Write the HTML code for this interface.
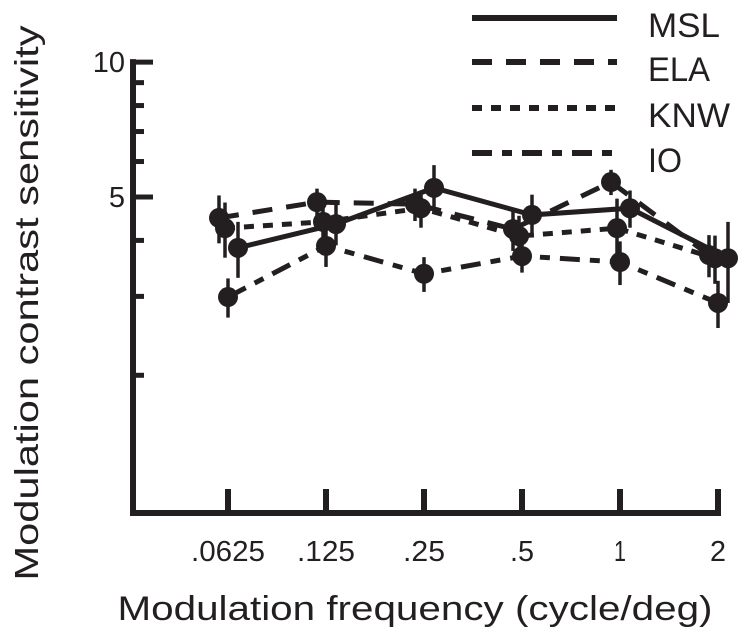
<!DOCTYPE html>
<html><head><meta charset="utf-8"><style>
html,body{margin:0;padding:0;background:#fff;}
svg{display:block;font-family:"Liberation Sans",sans-serif;}
</style></head><body>
<svg id="chart" width="745" height="640" viewBox="0 0 745 640">
<g id="axes"></g>
<g id="series"></g>
<g id="legend"></g>
<text x="38" y="303" transform="rotate(-90 38 303)" text-anchor="middle" font-size="33" textLength="555" lengthAdjust="spacingAndGlyphs" fill="#231f20">Modulation contrast sensitivity</text>
<text x="415" y="620" text-anchor="middle" font-size="34" textLength="595" lengthAdjust="spacingAndGlyphs" fill="#231f20">Modulation frequency (cycle/deg)</text>
</svg>
<script>
const categories = [".0625", ".125", ".25", ".5", "1", "2"];
const seriesNames = ["MSL", "ELA", "KNW", "IO"];
const mslValues = [3.85, 4.35, 5.24, 4.56, 4.72, 3.65];
const elaValues = [4.49, 4.87, 4.82, 4.24, 5.40, 3.71];
const knwValues = [4.26, 4.40, 4.72, 4.09, 4.26, 3.65];
const ioValues  = [2.99, 3.89, 3.37, 3.69, 3.58, 2.90];
const mslErr = [0.55, 0.45, 0.65, 0.50, 0.45, 0.75];
const elaErr = [0.55, 0.35, 0.40, 0.45, 0.35, 0.40];
const knwErr = [0.60, 0.55, 0.45, 0.45, 0.70, 0.45];
const ioErr  = [0.30, 0.40, 0.30, 0.30, 0.40, 0.35];
const yTickValues = [2, 3, 4, 5, 6, 7, 8, 9, 10];
const yTickLabels = {5: "5", 10: "10"};
const tickTextLen = {".0625": 74, ".125": 58, ".25": 42, ".5": 24, "1": 12, "2": 16};

const NS = "http://www.w3.org/2000/svg";
const INK = "#231f20";
const x0 = 228, dx = 98, xLeft = 133, yBottom = 513;
function xScale(i){ return x0 + i*dx; }
function yScale(v){ return 197 - 448*Math.log10(v/5); }
function mk(tag, attrs, parent){
  const e = document.createElementNS(NS, tag);
  for (const k in attrs) e.setAttribute(k, attrs[k]);
  parent.appendChild(e); return e;
}
const axes = document.getElementById('axes');
let l = mk('line',{x1:xLeft,y1:yScale(10)-3,x2:xLeft,y2:yBottom+3,stroke:INK,'stroke-width':6},axes);


l = mk('line',{x1:xLeft-3,y1:yBottom,x2:xScale(categories.length-1)+3,y2:yBottom,stroke:INK,'stroke-width':6},axes);


yTickValues.forEach(v=>{
  const major = yTickLabels[v] !== undefined;
  const t = mk('line',{x1:xLeft,y1:yScale(v),x2:xLeft+(major?20:11),y2:yScale(v),stroke:INK,'stroke-width':5},axes);
  
  
  if (major){
    const tx = mk('text',{x:xLeft-8,y:yScale(v)+10,'text-anchor':'end','font-size':29,fill:INK},axes);
    tx.textContent = yTickLabels[v];
    
    
  }
});
categories.forEach((c,i)=>{
  const t = mk('line',{x1:xScale(i),y1:yBottom,x2:xScale(i),y2:yBottom-24,stroke:INK,'stroke-width':6},axes);
  
  
  const tx = mk('text',{x:xScale(i),y:561,'text-anchor':'middle','font-size':29,fill:INK,textLength:tickTextLen[c]||20,lengthAdjust:'spacingAndGlyphs'},axes);
  tx.textContent = c;
  
  
});
const styles = [
  {vals:mslValues, err:mslErr, dash:"", off:10},
  {vals:elaValues, err:elaErr, dash:"20 14", off:-9},
  {vals:knwValues, err:knwErr, dash:"10 9", off:-3},
  {vals:ioValues,  err:ioErr,  dash:"20 10 10 10", off:0}
];
const sg = document.getElementById('series');
styles.forEach((s,si)=>{
  const g = mk('g',{},sg);
  
  
  const pts = s.vals.map((v,i)=>[xScale(i)+s.off, yScale(v)]);
  const p = mk('polyline',{points:pts.map(p=>p.join(',')).join(' '),fill:'none',stroke:INK,'stroke-width':5,'stroke-dasharray':s.dash},g);
  
  
  s.vals.forEach((v,i)=>{
    const x = xScale(i)+s.off;
    const e = mk('line',{x1:x,y1:yScale(v+s.err[i]),x2:x,y2:yScale(v-s.err[i]),stroke:INK,'stroke-width':3.5},g);
    
    
    const c = mk('circle',{cx:x,cy:yScale(v),r:10,fill:INK},g);
    
    
  });
});
const lg = document.getElementById('legend');
const legY = [18, 62, 108, 153];
const legLen = [72, 62, 82, 34];
styles.forEach((s,si)=>{
  const g = mk('g',{},lg);
  
  
  const ln = mk('line',{x1:472,y1:legY[si],x2:617,y2:legY[si],stroke:INK,'stroke-width':6,'stroke-dasharray':s.dash},g);
  
  
  const tx = mk('text',{x:648,y:legY[si]+19,'font-size':34,fill:INK,textLength:legLen[si],lengthAdjust:'spacingAndGlyphs'},g);
  tx.textContent = seriesNames[si];
  
  
});
</script>
</body></html>
